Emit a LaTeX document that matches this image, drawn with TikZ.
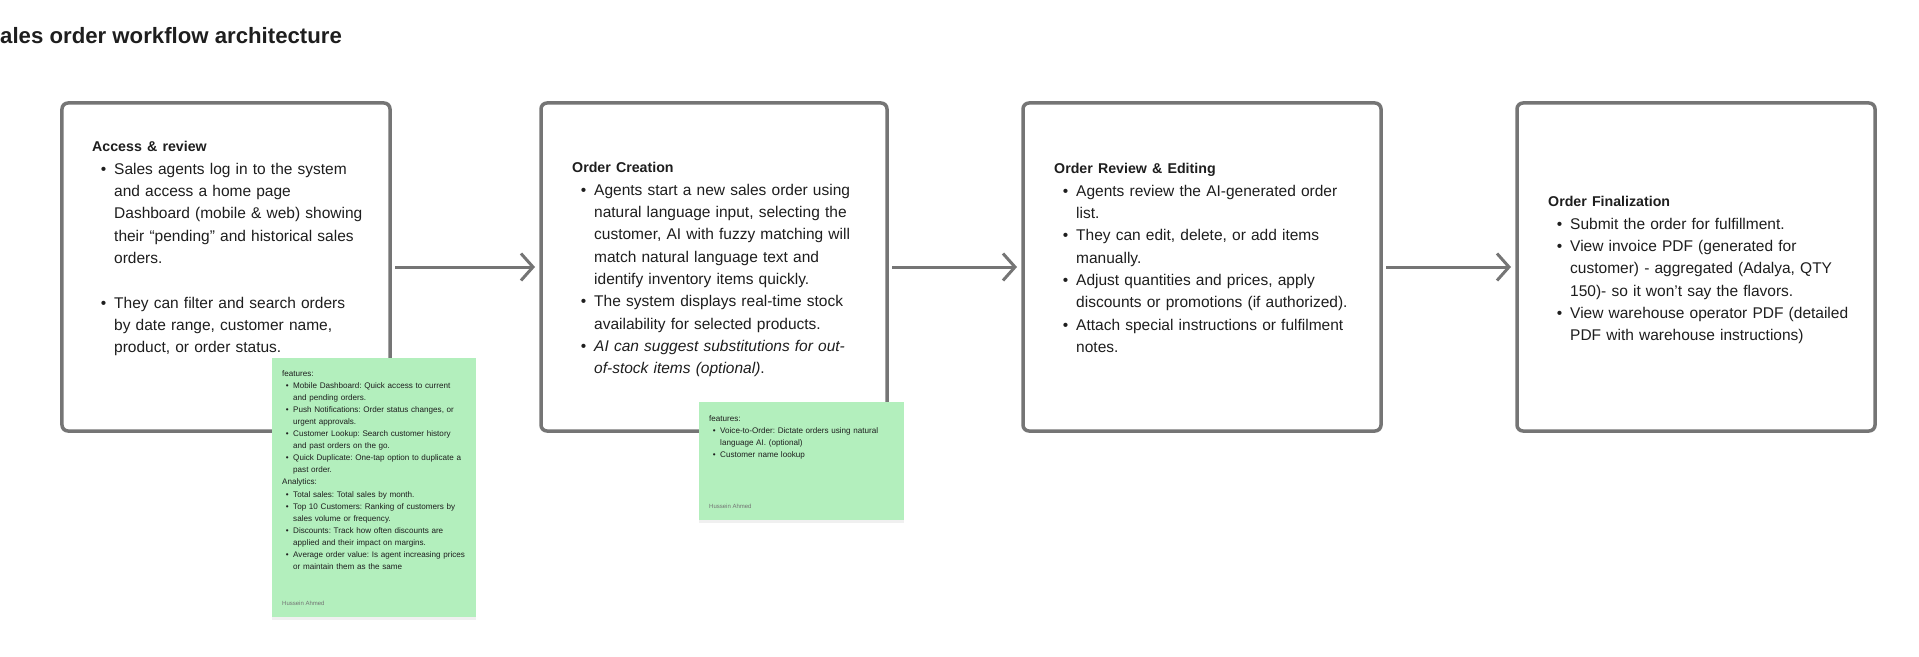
\documentclass[tikz,border=0pt]{standalone}
\usepackage{fontspec}
\setmainfont{Liberation Sans}
\usepackage{enumitem}
\usetikzlibrary{arrows.meta}
\usetikzlibrary{positioning}
\usetikzlibrary{shadows}

\definecolor{framegray}{HTML}{757575}
\definecolor{stickygreen}{HTML}{B3EFBD}
\definecolor{inkdark}{HTML}{1E1E1E}

\frenchspacing
\setlist[itemize]{nosep, leftmargin=22bp, labelsep=8bp, label={\textbullet}}
\newcommand{\bodyfont}{\fontsize{15.5bp}{22.3bp}\selectfont}
\newcommand{\notefont}{\fontsize{8.1bp}{12.1bp}\selectfont}
\newcommand{\stagehead}[1]{{\fontsize{14.2bp}{22.3bp}\selectfont\bfseries #1\par}}

\begin{document}
\begin{tikzpicture}[x=1bp, y=-1bp,
    stage/.style={draw=framegray, line width=3.5bp, rounded corners=6bp,
      fill=white, minimum height=328bp, outer sep=0pt},
    stagetxt/.style={anchor=base west, inner sep=0pt, text width=360bp,
      font=\bodyfont, text=inkdark},
    sticky/.style={fill=stickygreen, outer sep=0pt,
      drop shadow={shadow xshift=0bp, shadow yshift=-3bp, opacity=0.12}},
    notetxt/.style={anchor=base west, inner sep=0pt, text width=230bp,
      font=\notefont, text=inkdark},
    author/.style={anchor=base west, inner sep=0pt,
      font=\fontsize{6bp}{8bp}\selectfont, text=black!55},
    flow/.style={draw=framegray, line width=3bp,
      -{Straight Barb[length=12bp, width=27bp]}, shorten <=5bp, shorten >=6bp}]
  \useasboundingbox (0,0) rectangle (1919,657);

  \node[anchor=base west, inner sep=0pt, text=inkdark,
    font=\fontsize{22.2bp}{26bp}\selectfont\bfseries] (title) at (0,44)
    {ales order workflow architecture};

  \node[stage, minimum width=328bp] (access) at (226,267) {};
  \node[stage, minimum width=346bp] (creation) at (714,267) {};
  \node[stage, minimum width=358bp] (review) at (1202,267) {};
  \node[stage, minimum width=358bp] (final) at (1696,267) {};

  \draw[flow] (access) -- (creation);
  \draw[flow] (creation) -- (review);
  \draw[flow] (review) -- (final);

  \node[stagetxt] (accesstxt) at ([shift={(30,49)}]access.north west) {%
    \stagehead{Access \& review}
    \begin{itemize}
      \item Sales agents log in to the system\\ and access a home page\\
        Dashboard (mobile \& web) showing\\ their “pending” and historical sales\\
        orders.\\\mbox{}
      \item They can filter and search orders\\ by date range, customer name,\\
        product, or order status.
    \end{itemize}};

  \node[stagetxt] (creationtxt) at ([shift={(31,70)}]creation.north west) {%
    \stagehead{Order Creation}
    \begin{itemize}
      \item Agents start a new sales order using\\ natural language input, selecting the\\
        customer, AI with fuzzy matching will\\ match natural language text and\\
        identify inventory items quickly.
      \item The system displays real-time stock\\ availability for selected products.
      \item \textit{AI can suggest substitutions for out-\\of-stock items (optional)}.
    \end{itemize}};

  \node[stagetxt] (reviewtxt) at ([shift={(31,71)}]review.north west) {%
    \stagehead{Order Review \& Editing}
    \begin{itemize}
      \item Agents review the AI-generated order\\ list.
      \item They can edit, delete, or add items\\ manually.
      \item Adjust quantities and prices, apply\\ discounts or promotions (if authorized).
      \item Attach special instructions or fulfilment\\ notes.
    \end{itemize}};

  \node[stagetxt] (finaltxt) at ([shift={(31,104)}]final.north west) {%
    \stagehead{Order Finalization}
    \begin{itemize}
      \item Submit the order for fulfillment.
      \item View invoice PDF (generated for\\ customer) - aggregated (Adalya, QTY\\
        150)- so it won’t say the flavors.
      \item View warehouse operator PDF (detailed\\ PDF with warehouse instructions)
    \end{itemize}};

  % sticky notes sit on top of the frames
  \node[sticky, minimum width=204bp, minimum height=259bp] (dashnote) at (374,487.5) {};
  \node[notetxt] (dashtxt) at ([shift={(10,18)}]dashnote.north west) {%
    features:
    \begin{itemize}[leftmargin=11bp, labelsep=4.5bp]
      \item Mobile Dashboard: Quick access to current\\ and pending orders.
      \item Push Notifications: Order status changes, or\\ urgent approvals.
      \item Customer Lookup: Search customer history\\ and past orders on the go.
      \item Quick Duplicate: One-tap option to duplicate a\\ past order.
    \end{itemize}
    Analytics:
    \begin{itemize}[leftmargin=11bp, labelsep=4.5bp]
      \item Total sales: Total sales by month.
      \item Top 10 Customers: Ranking of customers by\\ sales volume or frequency.
      \item Discounts: Track how often discounts are\\ applied and their impact on margins.
      \item Average order value: Is agent increasing prices\\ or maintain them as the same
    \end{itemize}};
  \node[author] (dashby) at ([shift={(10,247)}]dashnote.north west) {Hussein Ahmed};

  \node[sticky, minimum width=205bp, minimum height=118bp] (voicenote) at (801.5,461) {};
  \node[notetxt] (voicetxt) at ([shift={(10,19)}]voicenote.north west) {%
    features:
    \begin{itemize}[leftmargin=11bp, labelsep=4.5bp]
      \item Voice-to-Order: Dictate orders using natural\\ language AI. (optional)
      \item Customer name lookup
    \end{itemize}};
  \node[author] (voiceby) at ([shift={(10,106)}]voicenote.north west) {Hussein Ahmed};
\end{tikzpicture}
\end{document}
